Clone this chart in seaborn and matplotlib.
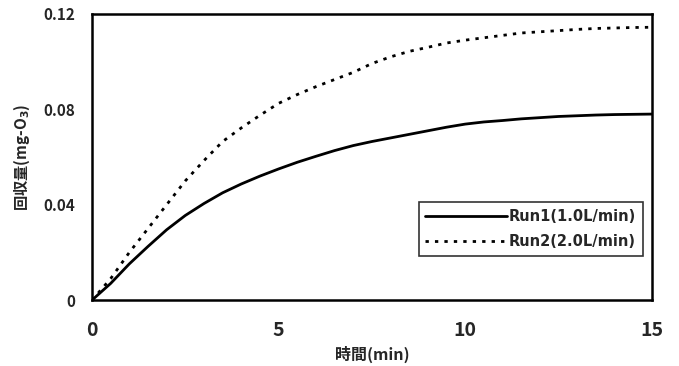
import numpy as np
import pandas as pd
import matplotlib
matplotlib.use("Agg")
import matplotlib.pyplot as plt
import seaborn as sns

time_min = [0, 0.5, 1.0, 1.5, 2.0, 2.5, 3.0, 3.5, 4.0, 4.5, 5.0, 5.5, 6.0, 6.5, 7.0, 7.5,
            8.0, 8.5, 9.0, 9.5, 10.0, 10.5, 11.0, 11.5, 12.0, 12.5, 13.0, 13.5, 14.0, 14.5, 15.0]
run1 = [0, 0.007, 0.0152, 0.0225, 0.0295, 0.0355, 0.0405, 0.045, 0.0487, 0.052, 0.055, 0.0578,
        0.0603, 0.0627, 0.0648, 0.0665, 0.068, 0.0695, 0.071, 0.0725, 0.0738, 0.0747, 0.0753,
        0.076, 0.0765, 0.077, 0.0773, 0.0776, 0.0778, 0.0779, 0.078]
run2 = [0, 0.009, 0.020, 0.030, 0.040, 0.050, 0.0585, 0.0665, 0.0722, 0.0775, 0.0825, 0.0862,
        0.0895, 0.0925, 0.0955, 0.0992, 0.102, 0.1043, 0.106, 0.1078, 0.109, 0.110, 0.111,
        0.112, 0.1125, 0.113, 0.1135, 0.1139, 0.1141, 0.1143, 0.1144]
series_names = ["Run1(1.0L/min)", "Run2(2.0L/min)"]
x_ticks = [0, 5, 10, 15]
y_ticks = [0, 0.04, 0.08, 0.12]
y_tick_labels = ["0", "0.04", "0.08", "0.12"]

df = pd.DataFrame({
    "time": time_min * 2,
    "value": run1 + run2,
    "series": [series_names[0]] * len(time_min) + [series_names[1]] * len(time_min),
})

sns.set_theme(style="white")
plt.rcParams["font.family"] = ["Noto Sans CJK JP", "DejaVu Sans"]
plt.rcParams["font.weight"] = "bold"

fig = plt.figure(figsize=(6.79, 3.66), dpi=100)
ax = fig.add_axes([0.1355, 0.180, 0.8245, 0.782])

sns.lineplot(data=df, x="time", y="value", hue="series", style="series",
             palette=["black", "black"],
             dashes={series_names[0]: "", series_names[1]: (1.2, 2.2)},
             linewidth=2.0, ax=ax, legend=True)

ax.set_xlim(0, 15)
ax.set_ylim(0, 0.12)
ax.set_xticks(x_ticks)
ax.set_xticklabels([str(t) for t in x_ticks], fontsize=14, fontweight="bold")
ax.set_yticks(y_ticks)
ax.set_yticklabels(y_tick_labels, fontsize=11, fontweight="bold")
ax.tick_params(axis="both", direction="in", length=3, width=1, color="black")
ax.tick_params(axis="y", pad=12)
ax.tick_params(axis="x", pad=15)
for s in ax.spines.values():
    s.set_color("black")
    s.set_linewidth(1.8)

ax.set_xlabel("時間(min)", fontsize=11.5, fontweight="bold", labelpad=4)
ax.set_ylabel("回収量(mg-O$_3$)", fontsize=11, fontweight="bold", labelpad=8)

leg = ax.legend(loc="lower right", bbox_to_anchor=(0.984, 0.155), frameon=True,
                fancybox=False, edgecolor="black",
                prop={"family": "DejaVu Sans", "weight": "bold", "size": 10.5},
                handlelength=5.6, borderpad=0.45, labelspacing=0.7,
                handletextpad=0.15, borderaxespad=0)
leg.get_frame().set_linewidth(1.2)

fig.savefig("out.png", dpi=100)
